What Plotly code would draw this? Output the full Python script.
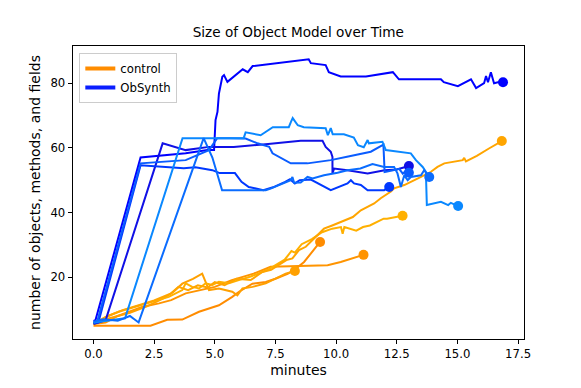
import plotly.graph_objects as go

# control runs (minutes, size)
ctrl_1_t = [0, 2.35, 3.04, 3.66, 4.35, 5.17, 5.72, 6.0, 6.55, 7.1, 7.5, 8.0, 8.27, 8.68, 9.34]
ctrl_1_y = [5.0, 5.0, 6.8, 6.9, 9.3, 11.3, 13.9, 15.5, 18.0, 18.5, 19.5, 21.0, 22.2, 24.7, 30.9]
ctrl_2_t = [0, 0.5, 1.0, 1.5, 2.0, 2.7, 3.2, 3.8, 4.35, 5.0, 5.7, 6.6, 7.3, 8.3, 9.65, 10.19, 11.13]
ctrl_2_y = [5.5, 6.0, 8.0, 9.5, 10.8, 11.9, 12.9, 15.0, 16.0, 17.0, 19.1, 21.1, 23.2, 23.5, 23.7, 24.7, 26.9]
ctrl_3_t = [0, 0.8, 1.5, 2.2, 2.9, 3.3, 3.66, 4.1, 4.48, 4.76, 5.17, 5.72, 5.93, 6.14, 6.55, 7.1, 7.92, 8.30]
ctrl_3_y = [6.0, 7.5, 9.0, 11.0, 13.5, 15.5, 18.0, 19.5, 21.1, 16.0, 16.5, 15.5, 14.4, 16.5, 17.0, 18.1, 21.1, 21.9]
ctrl_4_t = [0, 0.5, 1.04, 1.73, 2.42, 3.1, 3.66, 3.8, 4.07, 4.35, 4.62, 4.9, 5.17, 5.58, 5.99, 6.48, 7.18,
            7.88, 8.16, 8.3, 8.58, 9.0, 9.42, 9.84, 10.2, 10.27, 10.34, 10.83, 11.11, 11.39, 11.96, 12.1, 12.74]
ctrl_4_y = [5.5, 7.7, 9.3, 10.8, 12.3, 13.9, 16.0, 18.1, 17.0, 16.5, 18.1, 17.6, 18.6, 18.1, 19.1, 20.2, 22.3,
            25.4, 28.1, 27.6, 30.2, 31.8, 33.9, 35.0, 35.5, 33.4, 35.5, 34.4, 35.5, 36.0, 38.1, 38.1, 39.0]
ctrl_5_t = [0, 0.6, 1.2, 1.8, 2.5, 3.2, 3.5, 3.9, 4.3, 4.7, 5.0, 5.4, 5.9, 6.48, 6.96, 7.32, 7.51, 7.95, 8.2,
            8.47, 8.75, 9.5, 9.84, 10.2, 10.69, 11.02, 11.57, 11.84, 12.26, 12.39, 12.81, 13.5, 13.91, 14.18,
            14.46, 15.22, 15.28, 15.35, 15.8, 16.3, 16.83]
ctrl_5_y = [5.5, 8.0, 9.8, 11.2, 12.8, 15.0, 17.0, 16.0, 17.5, 16.8, 18.5, 17.5, 19.5, 19.1, 21.6, 22.3, 23.2,
            25.3, 25.8, 28.4, 29.4, 35.0, 36.0, 37.0, 38.6, 40.7, 42.8, 44.4, 46.5, 47.5, 48.5, 51.0, 52.6,
            54.1, 55.2, 56.2, 56.9, 55.8, 57.5, 59.8, 62.1]

# ObSynth runs
obs_1_t = [0, 0.08, 1.94, 3.8, 4.7, 4.97, 5.03, 5.11, 5.17, 5.31, 5.38, 5.52, 6.15, 6.36, 6.56, 8.87, 8.96,
           9.57, 9.70, 10.19, 11.23, 12.34, 12.59, 14.32, 14.44, 15.02, 15.56, 15.77, 16.10, 16.18, 16.26,
           16.38, 16.51, 16.67, 16.88]
obs_1_y = [6.5, 6.7, 57.0, 58.3, 59.3, 59.3, 68.6, 71.1, 76.8, 82.0, 82.5, 80.4, 84.3, 83.4, 85.3, 87.4, 86.2,
           85.6, 83.4, 82.1, 82.1, 83.4, 81.2, 81.2, 80.3, 79.1, 81.2, 78.5, 80.0, 82.2, 80.3,
           83.4, 80.0, 80.3, 80.3]
obs_2_t = [0, 0.5, 2.85, 3.8, 4.76, 5.78, 7.2, 8.54, 9.44, 9.57, 9.78, 9.85, 9.85, 9.92, 10.47, 11.3, 12.0, 12.5, 13.0]
obs_2_y = [5.5, 6.7, 61.4, 59.3, 60.3, 60.3, 61.2, 62.2, 62.2, 60.3, 58.8, 57.2, 52.1, 53.6, 53.1, 52.1, 53.1, 53.3, 54.4]
obs_3_t = [0, 0.2, 1.94, 3.72, 4.2, 4.9, 5.2, 5.83, 6.1, 6.4, 7.0, 7.4, 7.9, 8.1, 8.3, 8.5, 8.96, 9.5, 9.78,
           10.47, 10.61, 10.74, 11.02, 11.30, 11.98, 12.19]
obs_3_y = [6.0, 6.0, 54.6, 53.7, 54.0, 53.1, 52.2, 52.2, 49.5, 47.9, 46.9, 47.8, 49.5, 50.3, 49.0, 50.0, 50.2,
           47.9, 46.9, 49.0, 50.0, 49.0, 48.5, 46.9, 46.9, 47.9]
obs_4_t = [0, 0.15, 1.94, 3.8, 4.76, 5.1, 5.6, 6.27, 6.76, 7.24, 7.38, 8.13, 8.82, 9.78, 10.5, 11.43, 11.95,
           12.0, 12.3, 12.6, 12.75, 12.88, 13.0]
obs_4_y = [5.8, 6.2, 55.2, 56.2, 59.3, 63.0, 63.0, 62.9, 61.4, 60.3, 58.3, 55.2, 55.2, 56.2, 57.3, 58.8, 61.0,
           52.5, 53.0, 53.5, 52.0, 53.0, 52.3]
obs_5_t = [0, 0.5, 1.0, 1.3, 3.67, 4.5, 5.5, 6.19, 6.27, 6.89, 7.39, 8.05, 8.13, 8.21, 8.42, 8.67, 9.57,
           9.66, 9.78, 9.86, 10.32, 10.73, 10.90, 11.14, 11.30, 11.35, 11.91, 12.05, 13.08, 13.29, 13.57,
           13.70, 13.74, 14.32, 14.62, 14.73, 15.03]
obs_5_y = [6.0, 6.5, 7.0, 7.3, 63.0, 63.0, 63.0, 63.0, 64.8, 63.9, 66.4, 66.4, 67.9, 69.2, 67.0, 66.4, 66.1,
           63.9, 66.1, 64.2, 64.2, 63.2, 60.8, 60.2, 62.4, 61.4, 61.9, 59.3, 58.3, 56.2, 54.1,
           52.6, 42.3, 43.3, 42.3, 43.0, 42.0]
obs_6_t = [0, 0.4, 1.0, 1.5, 1.86, 4.54, 4.9, 5.3, 6.0, 7.1, 7.30, 8.13, 8.2, 8.27, 8.54, 8.82, 9.03, 9.5,
           10.06, 10.47, 11.0, 11.5, 11.98, 12.39, 12.53, 12.67, 12.81, 12.95, 13.08, 13.5, 13.63, 13.84]
obs_6_y = [6.2, 7.0, 6.5, 8.0, 6.0, 63.0, 57.0, 46.9, 46.9, 46.9, 47.4, 50.0, 51.0, 49.2, 49.3, 51.0, 50.5, 51.5,
           52.3, 53.1, 53.6, 55.0, 54.1, 54.1, 52.1, 47.9, 51.5, 50.0, 51.0, 51.5, 53.1, 51.0]

control_runs = [(ctrl_1_t, ctrl_1_y), (ctrl_2_t, ctrl_2_y), (ctrl_3_t, ctrl_3_y), (ctrl_4_t, ctrl_4_y), (ctrl_5_t, ctrl_5_y)]
control_colors = ['#ff8c00', '#ff9400', '#ffa000', '#ffb000', '#ffa500']
obsynth_runs = [(obs_1_t, obs_1_y), (obs_2_t, obs_2_y), (obs_3_t, obs_3_y), (obs_4_t, obs_4_y), (obs_5_t, obs_5_y), (obs_6_t, obs_6_y)]
obsynth_colors = ['#0000ff', '#1010e6', '#0038ff', '#0a5cff', '#0a88ff', '#0a6cff']

x_ticks = [0, 2.5, 5, 7.5, 10, 12.5, 15, 17.5]
y_ticks = [20, 40, 60, 80]

FONT = 'DejaVu Sans'
# the page body keeps its default 8px margin, so the figure is 8px smaller
W, H, PAD = 573, 380, 8

fig = go.Figure()

def add_run(t, y, color):
    fig.add_trace(go.Scatter(x=t, y=y, mode='lines', line=dict(color=color, width=2), showlegend=False, hoverinfo='skip'))
    fig.add_trace(go.Scatter(x=[t[-1]], y=[y[-1]], mode='markers', marker=dict(color=color, size=10), showlegend=False, hoverinfo='skip'))

for (t, y), c in zip(control_runs, control_colors):
    add_run(t, y, c)
for (t, y), c in zip(obsynth_runs, obsynth_colors):
    add_run(t, y, c)

# legend entries
fig.add_trace(go.Scatter(x=[None], y=[None], mode='lines', name='control', line=dict(color='#ff8c00', width=4)))
fig.add_trace(go.Scatter(x=[None], y=[None], mode='lines', name='ObSynth', line=dict(color='#0a1eff', width=4)))

fig.update_layout(width=W, height=H, autosize=False,
                  margin=dict(l=72.6 - PAD, r=57, t=46 - PAD, b=49, pad=0),
                  paper_bgcolor='white', plot_bgcolor='white',
                  font=dict(family=FONT, size=11.7, color='black'),
                  title=dict(text='Size of Object Model over Time', font=dict(size=13.6, family=FONT),
                             x=((72.6 + 524) / 2 - PAD) / W, xanchor='center', y=1 - (32 - PAD) / H, yanchor='middle'),
                  legend=dict(x=0.014, y=0.976, xanchor='left', yanchor='top', bgcolor='rgba(255,255,255,0.8)',
                              bordercolor='#cccccc', borderwidth=1, font=dict(size=11.7, family=FONT),
                              tracegroupgap=0, itemwidth=30))

fig.update_xaxes(range=[-0.845, 17.745], tickvals=x_ticks, ticktext=['%.1f' % v for v in x_ticks],
                 showgrid=False, zeroline=False, showline=True, mirror=True, linecolor='black', linewidth=1,
                 ticks='outside', ticklen=4.4, tickcolor='black', automargin=False,
                 title=dict(text='minutes', standoff=4))
fig.update_yaxes(range=[0.88, 91.5], tickvals=y_ticks,
                 showgrid=False, zeroline=False, showline=True, mirror=True, linecolor='black', linewidth=1,
                 ticks='outside', ticklen=4.4, tickcolor='black', automargin=False,
                 title=dict(text='number of objects, methods, and fields', standoff=6))

fig.write_html("out.html")
